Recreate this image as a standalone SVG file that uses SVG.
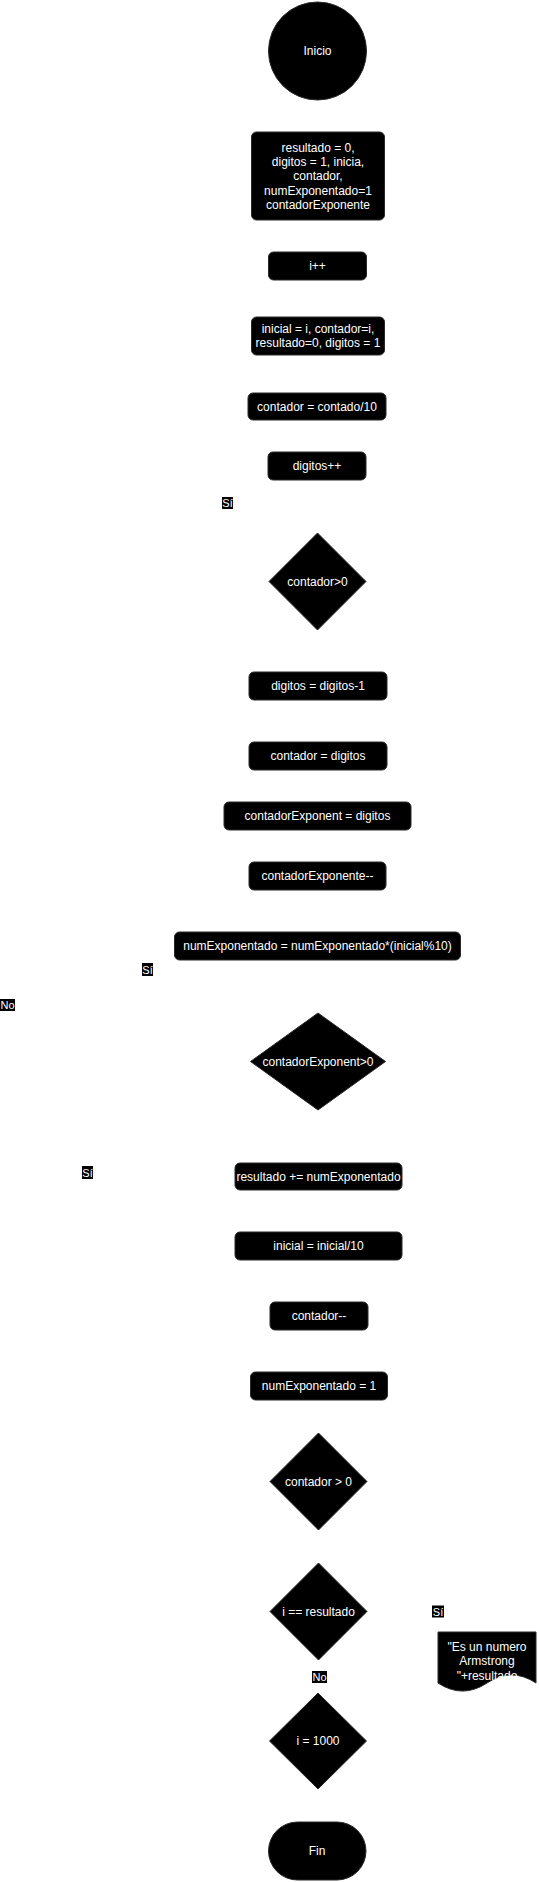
<svg xmlns="http://www.w3.org/2000/svg" width="539" height="1882" viewBox="0 0 539 1882">
<style>
.n{fill:#000;stroke:#2a2a2a;stroke-width:1}
.t{font-family:"Liberation Sans",Arial,Helvetica,sans-serif;font-size:12px;fill:#fff;text-anchor:middle}
.lb{fill:#000}
.lt{font-family:"Liberation Sans",Arial,Helvetica,sans-serif;font-size:11px;fill:#fff;text-anchor:middle}
</style>
<rect width="539" height="1882" fill="#fff"/>
<g id="connectors">
<g id="lbl1"><rect class="lb" x="222" y="497" width="11" height="12"/><text class="lt" x="227.5" y="507">Sí</text></g>
<g id="lbl2"><rect class="lb" x="142" y="963" width="11" height="13"/><text class="lt" x="147.5" y="973.5">Sí</text></g>
<g id="lbl3"><rect class="lb" x="0" y="999" width="15" height="12"/><text class="lt" x="7.5" y="1009">No</text></g>
<g id="lbl4"><rect class="lb" x="82" y="1166" width="11" height="13"/><text class="lt" x="87.5" y="1176.5">Sí</text></g>
<g id="lbl5"><rect class="lb" x="432" y="1605.5" width="12" height="12"/><text class="lt" x="438" y="1615.5">Sí</text></g>
<g id="lbl6"><rect class="lb" x="312" y="1671" width="15" height="12"/><text class="lt" x="319.5" y="1681">No</text></g>
</g>
<g id="inicio"><circle class="n" cx="317.5" cy="51" r="49"/><text class="t" x="317.5" y="55">Inicio</text></g>
<g id="init"><rect class="n" x="251.5" y="132" width="133" height="88" rx="5"/>
<text class="t" x="318" y="152">resultado = 0,</text>
<text class="t" x="318" y="166">digitos = 1, inicia,</text>
<text class="t" x="318" y="180">contador,</text>
<text class="t" x="318" y="195">numExponentado=1</text>
<text class="t" x="318" y="209">contadorExponente</text></g>
<g id="iinc"><rect class="n" x="268.5" y="252" width="98" height="28" rx="5"/><text class="t" x="317.5" y="270">i++</text></g>
<g id="asign"><rect class="n" x="251.5" y="317" width="133" height="38" rx="5"/>
<text class="t" x="318" y="333">inicial = i, contador=i,</text>
<text class="t" x="318" y="347">resultado=0, digitos = 1</text></g>
<g id="div1"><rect class="n" x="248" y="393" width="138" height="27" rx="5"/><text class="t" x="317" y="410.5">contador = contado/10</text></g>
<g id="diginc"><rect class="n" x="268" y="452" width="98" height="28" rx="5"/><text class="t" x="317" y="470">digitos++</text></g>
<g id="d1"><polygon class="n" points="269,581.5 317.5,533 366,581.5 317.5,630"/><text class="t" x="317.5" y="585.5">contador&gt;0</text></g>
<g id="digdec"><rect class="n" x="249" y="672" width="138" height="28" rx="5"/><text class="t" x="318" y="690">digitos = digitos-1</text></g>
<g id="contdig"><rect class="n" x="249" y="742" width="138" height="28" rx="5"/><text class="t" x="318" y="760">contador = digitos</text></g>
<g id="contexp"><rect class="n" x="224" y="802" width="187" height="28" rx="5"/><text class="t" x="317.5" y="820">contadorExponent = digitos</text></g>
<g id="contexpdec"><rect class="n" x="249" y="862" width="137" height="28" rx="5"/><text class="t" x="317.5" y="880">contadorExponente--</text></g>
<g id="numexp"><rect class="n" x="174.5" y="932" width="286" height="28" rx="5"/><text class="t" x="317.5" y="950">numExponentado = numExponentado*(inicial%10)</text></g>
<g id="d2"><polygon class="n" points="250.5,1061.5 318,1013 385.5,1061.5 318,1110"/><text class="t" x="318" y="1065.5">contadorExponent&gt;0</text></g>
<g id="suma"><rect class="n" x="235" y="1163" width="167" height="27" rx="5"/><text class="t" x="318.5" y="1180.5">resultado += numExponentado</text></g>
<g id="div2"><rect class="n" x="235" y="1232" width="167" height="28" rx="5"/><text class="t" x="318.5" y="1250">inicial = inicial/10</text></g>
<g id="contdec"><rect class="n" x="270" y="1302" width="98" height="28" rx="5"/><text class="t" x="319" y="1320">contador--</text></g>
<g id="numexp1"><rect class="n" x="250.5" y="1372" width="137" height="28" rx="5"/><text class="t" x="319" y="1390">numExponentado = 1</text></g>
<g id="d3"><polygon class="n" points="270,1481.5 318.5,1433 367,1481.5 318.5,1530"/><text class="t" x="318.5" y="1485.5">contador &gt; 0</text></g>
<g id="d4"><polygon class="n" points="270,1611.5 318.5,1563 367,1611.5 318.5,1660"/><text class="t" x="318.5" y="1615.5">i == resultado</text></g>
<g id="doc"><path class="n" d="M438,1632 H536 V1683 Q511.5,1666.8 487,1683 Q462.5,1699.2 438,1683 Z"/>
<text class="t" x="487" y="1651">"Es un numero</text>
<text class="t" x="487" y="1665">Armstrong</text>
<text class="t" x="487" y="1680">"+resultado</text></g>
<g id="d5"><polygon class="n" points="269.5,1741 318,1693 366.5,1741 318,1789"/><text class="t" x="318" y="1745">i = 1000</text></g>
<g id="fin"><rect class="n" x="268.5" y="1822" width="97.5" height="58" rx="29"/><text class="t" x="317" y="1855">Fin</text></g>
</svg>
